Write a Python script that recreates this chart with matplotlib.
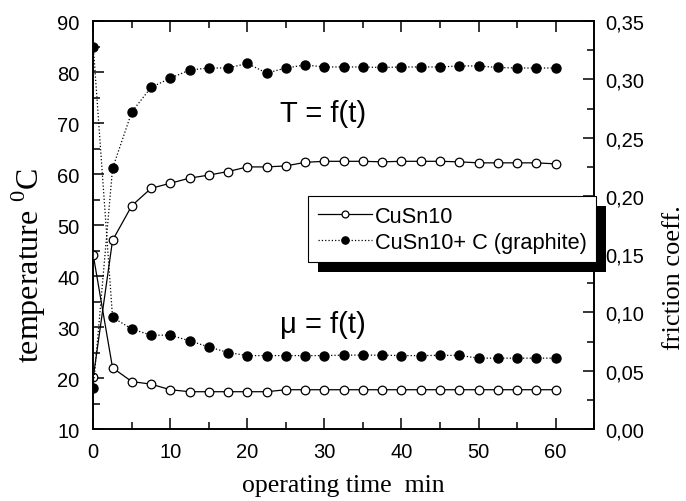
import numpy as np
import matplotlib
matplotlib.use('Agg')
import matplotlib.pyplot as plt
from matplotlib.ticker import MultipleLocator, FuncFormatter
from matplotlib.patches import Rectangle

plt.rcParams['font.family'] = 'Liberation Sans'
plt.rcParams['mathtext.fontset'] = 'custom'
plt.rcParams['mathtext.rm'] = 'Liberation Serif'

time_min = [0, 2.5, 5, 7.5, 10, 12.5, 15, 17.5, 20, 22.5, 25, 27.5, 30,
            32.5, 35, 37.5, 40, 42.5, 45, 47.5, 50, 52.5, 55, 57.5, 60]

temp_cusn10 = [20.2, 47.0, 53.8, 57.2, 58.2, 59.2, 59.8, 60.5, 61.4, 61.4,
               61.6, 62.3, 62.5, 62.5, 62.5, 62.4, 62.5, 62.5, 62.5, 62.4,
               62.2, 62.2, 62.2, 62.2, 62.0]
temp_graphite = [18.0, 61.1, 72.2, 77.0, 78.8, 80.4, 80.8, 80.8, 81.7, 79.8,
                 80.8, 81.4, 81.0, 81.0, 81.0, 80.9, 81.0, 81.0, 81.0, 81.2,
                 81.2, 80.9, 80.8, 80.8, 80.8]

fric_cusn10 = [0.149, 0.0525, 0.0407, 0.0385, 0.0337, 0.032, 0.032, 0.032,
               0.032, 0.032, 0.0337, 0.0337, 0.0337, 0.0337, 0.0337, 0.0337,
               0.0337, 0.0337, 0.0337, 0.0337, 0.0337, 0.0337, 0.0337,
               0.0337, 0.0337]
fric_graphite = [0.328, 0.0958, 0.0858, 0.0805, 0.0805, 0.0757, 0.0704,
                 0.0656, 0.063, 0.063, 0.063, 0.063, 0.063, 0.0634, 0.0634,
                 0.0634, 0.063, 0.063, 0.0632, 0.0632, 0.0608, 0.0608,
                 0.0608, 0.0608, 0.0608]

fig = plt.figure(figsize=(6.86, 5.02), dpi=100)
ax = fig.add_axes([0.136, 0.1434, 0.73, 0.8126])
ax2 = ax.twinx()

open_style = dict(color='black', lw=0.9, ls='-', marker='o', ms=6.2,
                  mfc='white', mec='black', mew=0.9)
fill_style = dict(color='black', lw=0.9, ls=':', marker='o', ms=6.5,
                  mfc='black', mec='black')

l1, = ax.plot(time_min, temp_cusn10, label='CuSn10', **open_style)
l2, = ax.plot(time_min, temp_graphite, label='CuSn10+ C (graphite)', **fill_style)
ax2.plot(time_min, fric_cusn10, **open_style)
ax2.plot(time_min, fric_graphite, **fill_style)

ax.set_xlim(0, 65)
ax.set_ylim(10, 90)
ax2.set_ylim(0, 0.35)

ax.set_xticks([0, 10, 20, 30, 40, 50, 60])
ax.xaxis.set_minor_locator(MultipleLocator(5))
ax.yaxis.set_major_locator(MultipleLocator(10))
ax.yaxis.set_minor_locator(MultipleLocator(5))
ax2.yaxis.set_major_locator(MultipleLocator(0.05))
ax2.yaxis.set_minor_locator(MultipleLocator(0.025))
ax2.yaxis.set_major_formatter(FuncFormatter(lambda v, p: f'{v:.2f}'.replace('.', ',')))

ax.tick_params(axis='x', which='both', direction='in', top=True, labelsize=14.5, pad=9)
ax.tick_params(axis='y', which='both', direction='in', right=False, labelsize=14.5, pad=10)
ax2.tick_params(axis='y', which='both', direction='in', labelsize=14.5, pad=8)
for a in (ax, ax2):
    a.tick_params(which='major', length=8, width=1.1)
    a.tick_params(which='minor', length=5, width=1.1)
    for s in a.spines.values():
        s.set_linewidth(1.2)

ax.set_xlabel('operating time  min', family='Liberation Serif', fontsize=18.5, labelpad=10)
ax.set_ylabel(r'temperature $^{0}$C', family='Liberation Serif', fontsize=23)
ax.yaxis.set_label_coords(-0.091, 0.404)
ax2.set_ylabel('friction coeff.', family='Liberation Serif', fontsize=19)
ax2.yaxis.set_label_coords(1.138, 0.3725)

ax.text(29.8, 72, 'T = f(t)', fontsize=21, ha='center', va='center')
ax.text(29.8, 30.5, 'μ = f(t)', fontsize=21, ha='center', va='center')

leg = ax2.legend([l1, l2], ['CuSn10', 'CuSn10+ C (graphite)'],
                 loc='upper left', bbox_to_anchor=(308 / 686, 1 - 197 / 502),
                 bbox_transform=fig.transFigure, fontsize=15.7, frameon=True,
                 fancybox=False, edgecolor='black', framealpha=1,
                 borderaxespad=0, handlelength=2.5, handletextpad=0.1,
                 markerscale=0.8, borderpad=0.45, labelspacing=0.22)
leg.get_frame().set_linewidth(0.8)
leg.set_zorder(10)

fig.canvas.draw()
bb = leg.get_window_extent()
shadow = Rectangle((bb.x0 + 10, bb.y0 - 10), bb.width, bb.height,
                   transform=None, facecolor='black', edgecolor='none',
                   zorder=9, clip_on=False)
ax2.add_patch(shadow)

fig.savefig('out.png', dpi=100)
